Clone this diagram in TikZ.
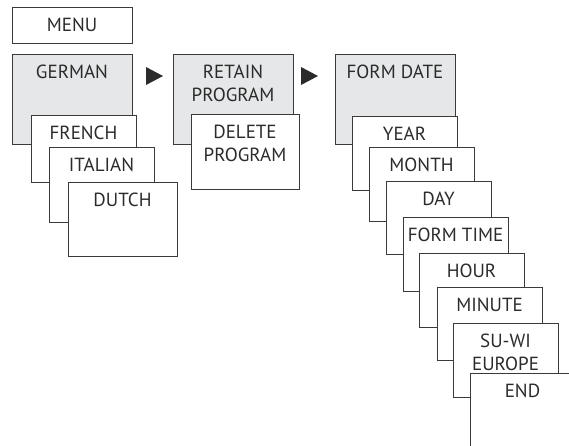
\documentclass[tikz,border=0pt]{standalone}
\usepackage{fontspec}
\setmainfont{PT Sans}
\definecolor{boxgray}{HTML}{E6E7E8}
\definecolor{boxline}{HTML}{3A3A3A}
\definecolor{txtgray}{HTML}{2B2B2B}
\tikzset{
  menubox/.style={draw=boxline, fill=white, line width=0.9pt, anchor=north west,
    minimum width=105pt, minimum height=74pt, inner sep=0pt, outer sep=0pt},
  shadedbox/.style={menubox, fill=boxgray, minimum width=120pt, minimum height=90pt},
  boxtext/.style={anchor=north, inner sep=0pt, yshift=-10.5pt, align=center,
    text=txtgray, font=\fontsize{19}{23.5}\selectfont},
  marker/.style={fill=txtgray, draw=none}
}
\begin{document}
\begin{tikzpicture}[x=1pt,y=-1pt]
\useasboundingbox (0,0) rectangle (569,445);
\clip (0,0) rectangle (569,445);
%% menu header
\node[menubox, minimum width=120pt, minimum height=36pt, text=txtgray,
  font=\fontsize{19}{23.5}\selectfont] (menu) at (12,7) {MENU};
%% language column
\node[shadedbox, label={[boxtext]north:GERMAN}] (german) at (12,54) {};
\node[menubox, minimum height=67pt, label={[boxtext]north:FRENCH}] (french) at (31,115) {};
\node[menubox, minimum height=75pt, label={[boxtext]north:ITALIAN}] (italian) at (49,147) {};
\node[menubox, minimum width=109pt, label={[boxtext]north:DUTCH}] (dutch) at (68,182) {};
%% program column
\node[shadedbox, label={[boxtext]north:RETAIN\\PROGRAM}] (retain) at (173,54) {};
\node[menubox, minimum width=108pt, minimum height=75pt, label={[boxtext]north:DELETE\\PROGRAM}] (delete) at (191,114) {};
%% date and time column
\node[shadedbox, label={[boxtext]north:FORM DATE}] (formdate) at (335,54) {};
\node[menubox, label={[boxtext]north:YEAR}] (year) at (352,116) {};
\node[menubox, label={[boxtext]north:MONTH}] (month) at (369,147) {};
\node[menubox, minimum height=73pt, label={[boxtext]north:DAY}] (day) at (386,181) {};
\node[menubox, label={[boxtext]north:FORM TIME}] (formtime) at (403,217) {};
\node[menubox, label={[boxtext]north:HOUR}] (hour) at (419,253) {};
\node[menubox, minimum height=73pt, label={[boxtext]north:MINUTE}] (minute) at (437,287) {};
\node[menubox, label={[boxtext]north:SU-WI\\EUROPE}] (suwi) at (453,323) {};
\node[menubox, minimum height=100pt, label={[boxtext]north:END}] (end) at (470,373) {};
%% arrows between columns
\coordinate (arrA) at (154.5,76);
\coordinate (arrB) at (309.5,76);
\fill[marker] (arrA) ++(-8.5,-9) -- ++(17,9) -- ++(-17,9) -- cycle;
\fill[marker] (arrB) ++(-8.5,-9) -- ++(17,9) -- ++(-17,9) -- cycle;
\end{tikzpicture}
\end{document}
